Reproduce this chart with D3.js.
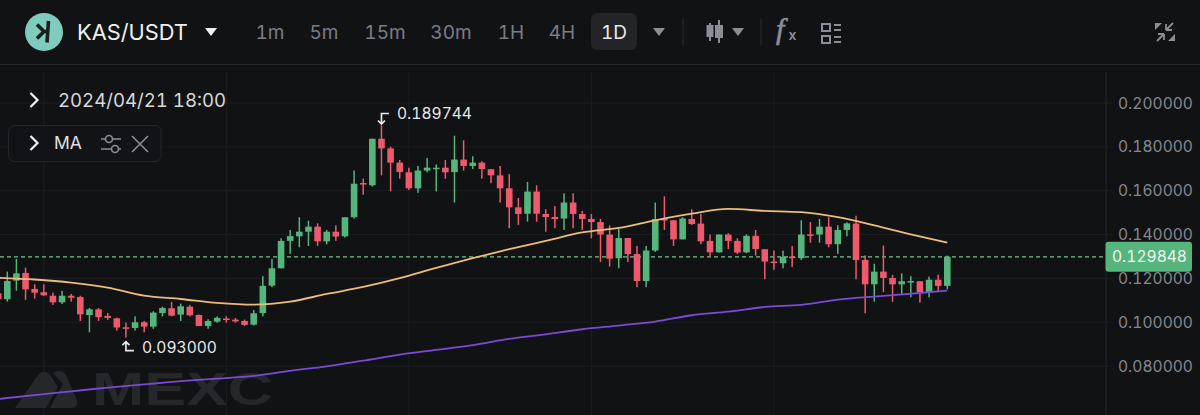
<!DOCTYPE html>
<html>
<head>
<meta charset="utf-8">
<title>KAS/USDT</title>
<script src="https://cdn.jsdelivr.net/npm/d3@7/dist/d3.min.js"></script>
<style>
html,body{margin:0;padding:0;background:#111214;overflow:hidden}
svg{display:block}
text{font-family:Inter,"Noto Sans",sans-serif;font-variant-numeric:tabular-nums;font-feature-settings:"tnum" 1}
</style>
</head>
<body>
<svg id="chart" width="1200" height="415"></svg>
<script>
// Daily candles, oldest first
const opens = [.1132,
.1105,.1190,.1225,.1152,.1137,.1121,.1091,.1121,.1115,.1033,
.1059,.1029,.1018,.0977,.0974,.1000,.0980,.1042,.1064,.1035,
.1071,.1033,.0983,.1003,.1017,.1012,.1006,.0989,.1042,.1167,
.1246,.1371,.1392,.1413,.1436,.1369,.1413,.1392,.1479,.1635,
.1625,.1837,.1793,.1728,.1684,.1611,.1692,.1699,.1705,.1685,
.1742,.1713,.1728,.1698,.1670,.1611,.1524,.1495,.1596,.1494,
.1480,.1473,.1546,.1494,.1471,.1457,.1400,.1292,.1384,.1311,
.1188,.1327,.1471,.1465,.1378,.1471,.1450,.1371,.1319,.1400,
.1371,.1319,.1394,.1333,.1277,.1269,.1299,.1292,.1401,.1400,
.1436,.1356,.1421,.1450,.1284,.1173,.1231,.1202,.1173,.1181,
.1187,.1137,.1194,.1166];
const closes = [.1105,
.1188,.1223,.1150,.1135,.1123,.1091,.1121,.1112,.1036,.1059,
.1023,.1020,.0976,.0973,.1000,.0980,.1044,.1065,.1030,.1073,
.1032,.0983,.1006,.1020,.1011,.1004,.0988,.1041,.1166,.1246,
.1371,.1393,.1413,.1436,.1369,.1413,.1391,.1479,.1632,.1628,
.1837,.1793,.1728,.1685,.1611,.1692,.1705,.1705,.1684,.1742,
.1713,.1728,.1699,.1670,.1611,.1524,.1494,.1596,.1495,.1480,
.1471,.1546,.1494,.1471,.1457,.1400,.1290,.1384,.1311,.1188,
.1327,.1471,.1467,.1378,.1473,.1448,.1369,.1319,.1400,.1371,
.1318,.1394,.1334,.1277,.1270,.1298,.1295,.1400,.1395,.1436,
.1356,.1421,.1451,.1284,.1173,.1231,.1202,.1173,.1187,.1188,
.1137,.1194,.1166,.129848];
const highs = [.1147,
.1231,.1289,.1249,.1173,.1173,.1135,.1143,.1129,.1121,.1065,
.1065,.1042,.1021,.0998,.1027,.1006,.1050,.1071,.1093,.1085,
.1079,.1035,.1014,.1027,.1027,.1020,.1012,.1056,.1210,.1289,
.1383,.1421,.1479,.1463,.1451,.1421,.1442,.1479,.1692,.1655,
.1837,.189744,.1801,.1740,.1705,.1713,.1749,.1720,.1740,.1851,
.1830,.1757,.1734,.1698,.1713,.1676,.1567,.1640,.1625,.1515,
.1530,.1588,.1588,.1508,.1494,.1471,.1442,.1427,.1384,.1348,
.1348,.1546,.1574,.1465,.1479,.1515,.1494,.1400,.1400,.1406,
.1383,.1401,.1421,.1334,.1327,.1327,.1348,.1465,.1457,.1471,
.1479,.1442,.1456,.1486,.1305,.1267,.1350,.1216,.1223,.1210,
.1187,.1208,.1217,.1304];
const lows = [.1087,
.1094,.1144,.1102,.1108,.1120,.1079,.1083,.1094,.1006,.0954,
.1006,.1011,.0962,.0930,.0962,.0954,.0970,.1027,.1027,.1006,
.1027,.0983,.0970,.0998,.0998,.0998,.0983,.0985,.1027,.1160,
.1246,.1312,.1342,.1348,.1348,.1356,.1371,.1386,.1473,.1582,
.1619,.1670,.1597,.1655,.1603,.1590,.1684,.1597,.1655,.1546,
.1692,.1699,.1655,.1634,.1546,.1429,.1444,.1459,.1459,.1413,
.1429,.1421,.1429,.1421,.1383,.1275,.1254,.1246,.1275,.1160,
.1160,.1321,.1421,.1348,.1378,.1444,.1356,.1299,.1318,.1333,
.1311,.1315,.1304,.1196,.1239,.1246,.1252,.1284,.1363,.1363,
.1342,.1312,.1392,.1196,.1041,.1094,.1137,.1093,.1129,.1114,
.1090,.1114,.1143,.1150];

// Moving averages, one reading every fourth candle
const maSampleStep = 4;
const maShort = [.1203,.1195,.1181,.1158,.1121,.1106,.1088,.1080,.1094,.1129,.1161,.1201,.1248,.1292,
.1333,.1371,.1410,.1430,.1465,.1495,.1517,.1508,.1502,.1479,.1442,.1401,.1363];
const maLong = [.0650,.0668,.0685,.0702,.0717,.0731,.0743,.0755,.0778,.0799,.0825,.0852,.0874,.0896,
.0924,.0945,.0968,.0985,.1003,.1032,.1048,.1070,.1079,.1103,.1117,.1130,.1144];

const priceTicks = [0.2,0.18,0.16,0.14,0.12,0.1,0.08];
const timeGridCandles = [5,25,45,65,85];
const lastPrice = 0.129848;
const peakPrice = 0.189744;
const troughPrice = 0.093;
const intervals = ["1m","5m","15m","30m","1H","4H","1D"];

const GREEN = "#55b57d", RED = "#ee5a6b", ORANGE = "#ecbc78", PURPLE = "#7a4bd6";
const svg = d3.select("#chart");
const x = d3.scaleLinear().domain([0, 104]).range([-1.83, 947.3]);
const y = d3.scaleLinear().domain([0.08, 0.2]).range([366.1, 103]);
const fmt = d3.format(".6f");

// Full background
svg.append("rect").attr("width",1200).attr("height",415).attr("fill","#111214");

// Horizontal grid and price labels
const axis = d3.axisRight(y).tickValues(priceTicks).tickSize(0).tickPadding(0).tickFormat(fmt);
svg.append("g").attr("transform","translate(1118,0)").call(axis)
  .call(g=>g.select(".domain").remove())
  .call(g=>g.selectAll("text").attr("fill","#85888e").attr("font-size",15.6).attr("x",0)
    .style("font-family","Inter,'Noto Sans',sans-serif"));
svg.append("g").selectAll("line").data(priceTicks).join("line")
  .attr("x1",0).attr("x2",1113).attr("y1",d=>y(d)).attr("y2",d=>y(d))
  .attr("stroke","#1c1e21").attr("stroke-width",1);

// Vertical grid
svg.append("g").selectAll("line").data(timeGridCandles).join("line")
  .attr("x1",d=>x(d)).attr("x2",d=>x(d)).attr("y1",72).attr("y2",415)
  .attr("stroke","#1c1e21").attr("stroke-width",1);
svg.append("line").attr("x1",1106).attr("x2",1106).attr("y1",72).attr("y2",415)
  .attr("stroke","#232528").attr("stroke-width",1);

// Watermark
const mark = svg.append("g").attr("fill","#25272a");
mark.append("path").attr("d","M15 408 L38 375 Q44 368 50 375 L58 387 L46 408 Z");
mark.append("path").attr("d","M50 408 L63 384 L53 373 Q60 368 66 375 L77 400 Q79 408 71 408 Z");
mark.append("text").attr("x",92).attr("y",405).attr("font-size",47).attr("font-weight",700)
  .style("font-family","'Liberation Sans',sans-serif")
  .attr("textLength",181).attr("lengthAdjust","spacingAndGlyphs").text("MEXC");

// Header rule
svg.append("line").attr("x1",0).attr("x2",1200).attr("y1",64.5).attr("y2",64.5).attr("stroke","#25272a");

// Last price guide
svg.append("line").attr("x1",0).attr("x2",1106).attr("y1",y(lastPrice)).attr("y2",y(lastPrice))
  .attr("stroke","#6fc392").attr("stroke-width",1.3).attr("stroke-dasharray","4 3");

// Candles
const candles = svg.append("g").selectAll("g").data(d3.range(opens.length)).join("g")
  .attr("fill",i=>closes[i]>=opens[i]?GREEN:RED);
candles.append("rect").attr("x",i=>x(i)-.75).attr("width",1.5)
  .attr("y",i=>y(highs[i])).attr("height",i=>y(lows[i])-y(highs[i]));
candles.append("rect").attr("x",i=>x(i)-3.3).attr("width",6.6)
  .attr("y",i=>y(Math.max(opens[i],closes[i])))
  .attr("height",i=>Math.max(1.5,Math.abs(y(opens[i])-y(closes[i]))));

// Moving average lines
const maLine = d3.line().x((d,i)=>x(i*maSampleStep)).y(d=>y(d)).curve(d3.curveMonotoneX);
[[maLong,PURPLE],[maShort,ORANGE]].forEach(([s,c])=>{
  svg.append("path").attr("d",maLine(s)).attr("fill","none").attr("stroke",c)
    .attr("stroke-width",1.8).attr("stroke-linejoin","round");
});

// High and low callouts
const callouts = svg.append("g").attr("fill","none").attr("stroke","#e8e8e8").attr("stroke-width",1.7);
const peakX = x(opens.length-1-62), peakY = y(peakPrice);
callouts.append("path").attr("d",`M${peakX+7.5} ${peakY-12} H${peakX} V${peakY-1.5} M${peakX-3.5} ${peakY-5} L${peakX} ${peakY-1.5} L${peakX+3.5} ${peakY-5}`);
const lowX = x(opens.length-1-90), lowY = y(troughPrice);
callouts.append("path").attr("d",`M${lowX+8} ${lowY+13} H${lowX} V${lowY+4} M${lowX-3.5} ${lowY+7.5} L${lowX} ${lowY+4} L${lowX+3.5} ${lowY+7.5}`);
const label = (tx,ty,t,size,fill,anchor)=>svg.append("text").attr("x",tx).attr("y",ty).attr("dy","0.35em")
  .attr("font-size",size).attr("fill",fill).attr("text-anchor",anchor||"start").text(t);
label(397,114,fmt(peakPrice),15.6,"#e8e8e8");
label(142,348,fmt(troughPrice),15.6,"#e8e8e8");

// Last price badge
svg.append("rect").attr("x",1105.5).attr("y",y(lastPrice)-15).attr("width",86.5).attr("height",30).attr("rx",3).attr("fill",GREEN);
label(1112,y(lastPrice),fmt(lastPrice),15.6,"#f0f5f2");

// Symbol logo and title
svg.append("circle").attr("cx",44).attr("cy",32).attr("r",19).attr("fill","#7fcbbd");
svg.append("path").attr("d","M37 24.5 L44 31.5 L37 38.5 M48.5 21 L47 42.5 M44 31.5 H48")
  .attr("fill","none").attr("stroke","#15201f").attr("stroke-width",3.6);
label(77,32,"KAS/USDT",21.8,"#f0f0f0");
const tri = (cx,cy,w,h,fill)=>svg.append("path").attr("d",`M${cx-w/2} ${cy-h/2} H${cx+w/2} L${cx} ${cy+h/2} Z`).attr("fill",fill);
tri(211,32,12,8,"#f0f0f0");

// Interval buttons
const intervalX = [270,324,385,451,511,562,614];
svg.append("rect").attr("x",591).attr("y",13).attr("width",46).attr("height",37).attr("rx",6).attr("fill","#222428");
svg.append("g").selectAll("text").data(intervals).join("text")
  .attr("x",(d,i)=>intervalX[i]).attr("y",32).attr("dy","0.35em").attr("text-anchor","middle")
  .attr("font-size",19).attr("fill",d=>d==="1D"?"#e8e8e8":"#7a7d83").text(d=>d);

// Toolbar controls
const ICON = "#8b8e94";
tri(659,32,12,8,ICON);
tri(738,32,12,8,ICON);
[683,761].forEach(v=>svg.append("line").attr("x1",v).attr("x2",v).attr("y1",19).attr("y2",45).attr("stroke","#26282b"));
svg.append("path").attr("fill",ICON)
  .attr("d","M709 23 h2 v2 h2.5 v12 h-2.5 v4 h-2 v-4 h-2.5 v-12 h2.5 Z M718 20 h2 v5 h3 v13 h-3 v5 h-2 v-5 h-3 v-13 h3 Z");
svg.append("text").attr("x",776).attr("y",39).attr("font-size",30).attr("font-style","italic")
  .attr("stroke",ICON).attr("stroke-width",.7)
  .style("font-family","'Liberation Serif',serif").attr("fill",ICON).text("f");
svg.append("text").attr("x",788.5).attr("y",39.5).attr("font-size",14).attr("font-weight",600).attr("fill",ICON).text("x");
const list = svg.append("g").attr("fill","none").attr("stroke",ICON).attr("stroke-width",2);
[24,36].forEach(t=>{
  list.append("rect").attr("x",822).attr("y",t).attr("width",8).attr("height",7);
  list.append("path").attr("d",`M834 ${t+1} H841 M834 ${t+6} H841`);
});
const shrink = svg.append("g").attr("fill",ICON);
["M1155 23 H1162 L1155 30 Z","M1175 41 H1168 L1175 34 Z"].forEach(d=>shrink.append("path").attr("d",d));
svg.append("path").attr("d","M1166 30 L1173 23 M1166 30 H1172 M1166 30 V24 M1164 34 L1157 41 M1164 34 H1158 M1164 34 V40")
  .attr("fill","none").attr("stroke",ICON).attr("stroke-width",1.8);

// Cursor time and indicator panel
const chev = (cx,cy)=>svg.append("path").attr("d",`M${cx-3.5} ${cy-7} L${cx+3.5} ${cy} L${cx-3.5} ${cy+7}`)
  .attr("fill","none").attr("stroke","#f0f0f0").attr("stroke-width",2.2);
chev(34,100);
label(58,100,"2024/04/21 18:00",18.6,"#d8d8d8");
svg.append("rect").attr("x",8.5).attr("y",125.5).attr("width",152.5).attr("height",36).attr("rx",6)
  .attr("fill","#111316").attr("stroke","#25272b");
chev(34,143);
label(54,143,"MA",17.5,"#e0e0e0");
const knobs = svg.append("g").attr("fill","none").attr("stroke",ICON).attr("stroke-width",1.6);
knobs.append("path").attr("d","M101 139 H105 M113 139 H121 M101 149 H111 M118 149 H121");
knobs.append("circle").attr("cx",109).attr("cy",139).attr("r",3.5);
knobs.append("circle").attr("cx",115).attr("cy",149).attr("r",3.5);
knobs.append("path").attr("d","M132 136 L148 152 M148 136 L132 152");
</script>
</body>
</html>
